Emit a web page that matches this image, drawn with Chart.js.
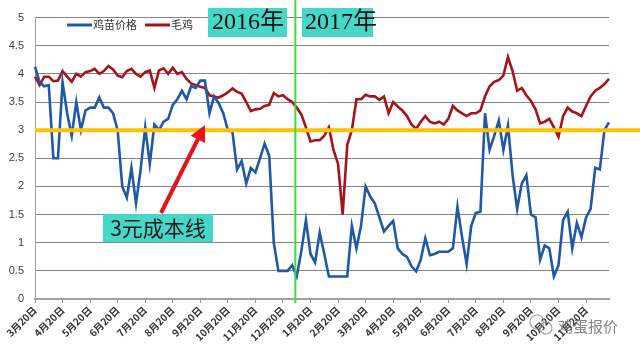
<!DOCTYPE html>
<html><head><meta charset="utf-8">
<style>html,body{margin:0;padding:0;background:#fff;}#wrap{position:relative;width:640px;height:353px;}</style>
<script src="https://cdn.jsdelivr.net/npm/chart.js@4.4.1/dist/chart.umd.min.js"></script>
</head><body><div id="wrap"><canvas id="c" width="640" height="353"></canvas></div>
<script>
const categories = `
2016-03-20 2016-03-25 2016-03-30 2016-04-05 2016-04-10 2016-04-15
2016-04-20 2016-04-25 2016-04-30 2016-05-05 2016-05-10 2016-05-15
2016-05-20 2016-05-25 2016-05-30 2016-06-05 2016-06-10 2016-06-15
2016-06-20 2016-06-25 2016-06-30 2016-07-05 2016-07-10 2016-07-15
2016-07-20 2016-07-25 2016-07-30 2016-08-05 2016-08-10 2016-08-15
2016-08-20 2016-08-25 2016-08-30 2016-09-05 2016-09-10 2016-09-15
2016-09-20 2016-09-25 2016-09-30 2016-10-05 2016-10-10 2016-10-15
2016-10-20 2016-10-25 2016-10-30 2016-11-05 2016-11-10 2016-11-15
2016-11-20 2016-11-25 2016-11-30 2016-12-05 2016-12-10 2016-12-15
2016-12-20 2016-12-25 2016-12-30 2017-01-05 2017-01-10 2017-01-15
2017-01-20 2017-01-25 2017-01-30 2017-02-05 2017-02-10 2017-02-15
2017-02-20 2017-02-25 2017-02-28 2017-03-05 2017-03-10 2017-03-15
2017-03-20 2017-03-25 2017-03-30 2017-04-05 2017-04-10 2017-04-15
2017-04-20 2017-04-25 2017-04-30 2017-05-05 2017-05-10 2017-05-15
2017-05-20 2017-05-25 2017-05-30 2017-06-05 2017-06-10 2017-06-15
2017-06-20 2017-06-25 2017-06-30 2017-07-05 2017-07-10 2017-07-15
2017-07-20 2017-07-25 2017-07-30 2017-08-05 2017-08-10 2017-08-15
2017-08-20 2017-08-25 2017-08-30 2017-09-05 2017-09-10 2017-09-15
2017-09-20 2017-09-25 2017-09-30 2017-10-05 2017-10-10 2017-10-15
2017-10-20 2017-10-25 2017-10-30 2017-11-05 2017-11-10 2017-11-15
2017-11-20 2017-11-25 2017-11-30 2017-12-05 2017-12-10 2017-12-15
`.trim().split(/\s+/);

const tickDates = ['2016-03-20','2016-04-20','2016-05-20','2016-06-20','2016-07-20','2016-08-20','2016-09-20','2016-10-20','2016-11-20','2016-12-20',
  '2017-01-20','2017-02-20','2017-03-20','2017-04-20','2017-05-20','2017-06-20','2017-07-20','2017-08-20','2017-09-20','2017-10-20','2017-11-20'];
const tickLabels = ['3月20日','4月20日','5月20日','6月20日','7月20日','8月20日','9月20日','10月20日','11月20日','12月20日',
  '1月20日','2月20日','3月20日','4月20日','5月20日','6月20日','7月20日','8月20日','9月20日','10月20日','11月20日'];

const seriesNames = ['鸡苗价格', '毛鸡'];

const chickPrice = [
 4.13,3.85,3.78,3.8,2.5,2.5,3.85,3.3,2.9,3.5,
 3.0,3.35,3.4,3.4,3.58,3.4,3.4,3.3,3.0,2.0,
 1.8,2.33,1.7,2.3,3.05,2.4,3.1,3.0,3.15,3.2,
 3.45,3.55,3.7,3.55,3.78,3.75,3.88,3.88,3.3,3.6,
 3.48,3.3,3.0,2.97,2.3,2.45,2.05,2.33,2.25,2.5,
 2.76,2.55,1.0,0.5,0.5,0.5,0.6,0.4,0.85,1.4,
 0.8,0.65,1.18,0.8,0.4,0.4,0.4,0.4,0.4,1.3,
 0.9,1.3,2.0,1.82,1.7,1.45,1.2,1.3,1.39,0.9,
 0.8,0.75,0.58,0.49,0.7,1.08,0.78,0.8,0.84,0.84,
 0.84,0.9,1.64,1.1,0.62,1.3,1.53,1.55,3.3,2.65,
 2.9,3.17,2.65,3.08,2.2,1.6,2.05,2.2,1.5,1.45,
 0.7,0.95,0.9,0.4,0.6,1.4,1.55,0.9,1.35,1.1,
 1.45,1.6,2.33,2.3,3.0,3.14
];

const broilerPrice = [
 3.95,3.8,3.95,3.95,3.87,3.88,4.05,3.95,3.86,4.0,
 3.95,4.03,4.05,4.09,4.0,4.05,4.14,4.08,3.97,3.94,
 4.05,4.09,4.0,3.95,4.03,4.06,3.75,4.06,4.1,4.0,
 4.11,4.0,4.03,3.91,3.83,3.8,3.77,3.75,3.62,3.6,
 3.58,3.62,3.67,3.74,3.68,3.65,3.5,3.34,3.37,3.38,
 3.43,3.45,3.66,3.6,3.62,3.55,3.5,3.4,3.28,3.05,
 2.8,2.82,2.82,2.9,3.05,2.65,2.4,1.5,2.74,3.0,
 3.55,3.55,3.63,3.6,3.6,3.54,3.6,3.3,3.5,3.42,
 3.35,3.25,3.1,3.02,3.15,3.25,3.15,3.12,3.15,3.1,
 3.2,3.43,3.35,3.3,3.25,3.3,3.3,3.35,3.6,3.78,
 3.86,3.89,3.97,4.3,4.05,3.7,3.75,3.62,3.52,3.37,
 3.12,3.15,3.2,3.05,2.88,3.25,3.4,3.33,3.3,3.25,
 3.43,3.6,3.7,3.75,3.82,3.91
];

const yMin = 0, yMax = 5, yStep = 0.5;
const costLine = 3;
const costLabel = '3元成本线';
const yearLabels = ['2016年', '2017年'];
const yearSplitIndex = 56.7;
const watermark = '鸡蛋报价';

const annot = {
  id: 'annot',
  afterDatasetsDraw(chart) {
    const { ctx, chartArea: a, scales: { x, y } } = chart;
    ctx.save();
    const yy = y.getPixelForValue(costLine);
    ctx.strokeStyle = '#FFC000'; ctx.lineWidth = 4;
    ctx.beginPath(); ctx.moveTo(a.left, yy); ctx.lineTo(chart.width, yy); ctx.stroke();
    const gx = x.getPixelForValue(yearSplitIndex);
    ctx.strokeStyle = '#3FDB3F'; ctx.lineWidth = 2;
    ctx.beginPath(); ctx.moveTo(gx, 0); ctx.lineTo(gx, a.bottom + 4); ctx.stroke();
    ctx.fillStyle = '#45D8C8';
    ctx.fillRect(208, 8, 79, 29);
    ctx.fillRect(302, 8, 71, 29);
    ctx.fillStyle = '#111';
    ctx.font = '24px "Liberation Serif", "Noto Sans CJK SC"';
    ctx.textBaseline = 'middle'; ctx.textAlign = 'left';
    ctx.fillText(yearLabels[0], 212, 23);
    ctx.fillText(yearLabels[1], 305, 23);
    ctx.fillStyle = '#45D8C8';
    ctx.fillRect(103, 214, 110, 28);
    ctx.fillStyle = '#1a1a1a';
    ctx.font = '21px "Noto Sans CJK SC"';
    ctx.textAlign = 'center';
    ctx.fillText(costLabel, 158, 228);
    ctx.strokeStyle = '#E5141C'; ctx.fillStyle = '#E5141C'; ctx.lineWidth = 4;
    ctx.beginPath(); ctx.moveTo(161, 213); ctx.lineTo(199, 137); ctx.stroke();
    const tipX = 205, tipY = 125, ang = Math.atan2(tipY - 213, tipX - 161);
    ctx.beginPath();
    ctx.moveTo(tipX, tipY);
    ctx.lineTo(tipX - 16 * Math.cos(ang) + 8 * Math.sin(ang), tipY - 16 * Math.sin(ang) - 8 * Math.cos(ang));
    ctx.lineTo(tipX - 16 * Math.cos(ang) - 8 * Math.sin(ang), tipY - 16 * Math.sin(ang) + 8 * Math.cos(ang));
    ctx.closePath(); ctx.fill();
    const ds = chart.data.datasets;
    ctx.font = '11px "Noto Sans CJK SC"'; ctx.textAlign = 'left'; ctx.textBaseline = 'middle';
    const items = [[67, 93], [145, 171]];
    ds.forEach((d, i) => {
      ctx.strokeStyle = d.borderColor; ctx.lineWidth = 3;
      ctx.beginPath(); ctx.moveTo(items[i][0], 25); ctx.lineTo(items[i][0] + 25, 25); ctx.stroke();
      ctx.fillStyle = '#333'; ctx.fillText(d.label, items[i][1], 25);
    });
    ctx.strokeStyle = 'rgba(140,140,140,0.8)'; ctx.lineWidth = 1.2;
    ctx.beginPath(); ctx.arc(537, 322, 7, 0, Math.PI * 2); ctx.stroke();
    ctx.beginPath(); ctx.arc(546, 328, 6, 0, Math.PI * 2); ctx.stroke();
    ctx.fillStyle = 'rgba(110,110,110,0.85)';
    ctx.font = '15px "Noto Sans CJK SC"';
    ctx.fillText(watermark, 558, 326);
    ctx.restore();
  }
};

new Chart(document.getElementById('c'), {
  type: 'line',
  data: {
    labels: categories,
    datasets: [
      { label: seriesNames[0], data: chickPrice, borderColor: '#1E58A6', borderWidth: 2.6, pointRadius: 0, tension: 0, fill: false },
      { label: seriesNames[1], data: broilerPrice, borderColor: '#A8121A', borderWidth: 2.6, pointRadius: 0, tension: 0, fill: false }
    ]
  },
  options: {
    responsive: false, animation: false, devicePixelRatio: 1,
    layout: { padding: { top: 8, right: 31, left: 0, bottom: 0 } },
    plugins: { legend: { display: false }, tooltip: { enabled: false } },
    scales: {
      x: {
        type: 'category', offset: false,
        grid: { drawOnChartArea: false, drawTicks: true, tickLength: 4, color: '#999' },
        border: { color: '#A0A0A0', width: 2 },
        ticks: {
          autoSkip: false, maxRotation: 45, minRotation: 45, padding: 1,
          color: '#333', font: { size: 10, weight: 'bold', family: '"Noto Sans CJK SC"' },
          callback: function (v) { const i = tickDates.indexOf(categories[v]); return i >= 0 ? tickLabels[i] : ''; }
        },
        afterBuildTicks: s => { s.ticks = s.ticks.filter(t => tickDates.includes(categories[t.value])); },
        afterFit: s => { s.height = 54; }
      },
      y: {
        min: yMin, max: yMax,
        ticks: { stepSize: yStep, padding: 11, color: '#404040', font: { size: 11, family: '"Liberation Sans"' },
          callback: v => String(Math.round(v * 10) / 10) },
        grid: { color: '#858585', lineWidth: 1, drawTicks: false },
        border: { color: '#A0A0A0', width: 1 },
        afterFit: s => { s.width = 35; }
      }
    }
  },
  plugins: [annot]
});
</script></body></html>
